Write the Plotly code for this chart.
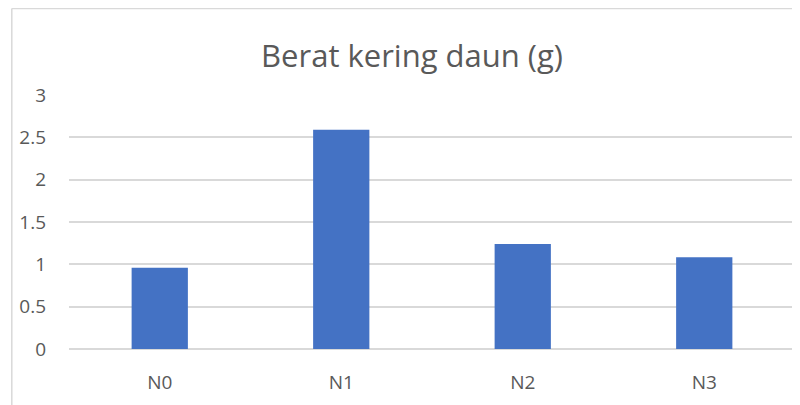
import plotly.graph_objects as go

categories = ["N0", "N1", "N2", "N3"]
values = [0.96, 2.59, 1.24, 1.085]
y_ticks = [0, 0.5, 1, 1.5, 2, 2.5, 3]
y_tick_labels = ["0", "0.5", "1", "1.5", "2", "2.5", "3"]

OFF = 8  # page body margin
W, H = 800 - OFF, 405 - OFF
L, R, T, B = 69 - OFF, 5, 95 - OFF, 56
pw = W - L - R
ph = H - T - B

fig = go.Figure(go.Bar(x=categories, y=values, marker=dict(color="#4472C4", line=dict(width=0)),
                       hoverinfo="x+y"))

font_fam = "Open Sans, Liberation Sans, sans-serif"
fig.update_layout(
    width=W, height=H,
    margin=dict(l=L, r=R, t=T, b=B),
    paper_bgcolor="white", plot_bgcolor="white",
    bargap=0.69,
    showlegend=False,
    title=dict(text="Berat kering daun (g)", x=(412 - OFF) / W, xanchor="center", xref="container",
               y=1 - (56 - OFF) / H, yanchor="middle", yref="container",
               font=dict(family=font_fam, size=31, color="#595959")),
    font=dict(family=font_fam, color="#595959"),
)
fig.update_xaxes(showgrid=False, showline=False, zeroline=False, ticks="",
                 tickfont=dict(size=19, color="#595959"), ticklabelstandoff=20)
fig.update_yaxes(range=[0, 3], tickvals=y_ticks, ticktext=y_tick_labels,
                 showgrid=True, gridcolor="#d9d9d9", gridwidth=1.5,
                 zeroline=True, zerolinecolor="#d9d9d9", zerolinewidth=1.5,
                 showline=False, ticks="", tickfont=dict(size=19, color="#595959"),
                 ticklabelstandoff=22)

# chart-area border (left and top edges visible)
bx = (11.8 - OFF - L) / pw
by = (H - B - 0.5) / ph
fig.add_shape(type="line", xref="paper", yref="paper", x0=bx, x1=bx, y0=-1, y1=by,
              line=dict(color="#d9d9d9", width=1.5), layer="below")
fig.add_shape(type="line", xref="paper", yref="paper", x0=bx, x1=1.5, y0=by, y1=by,
              line=dict(color="#d9d9d9", width=1.5), layer="below")

fig.write_html("out.html")
